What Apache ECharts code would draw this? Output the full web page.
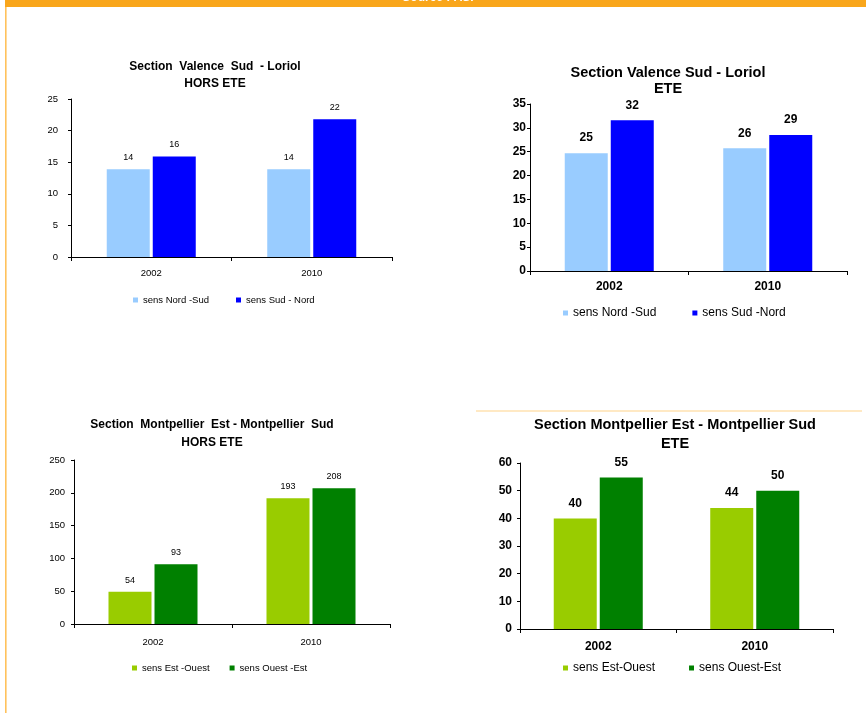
<!DOCTYPE html>
<html>
<head>
<meta charset="utf-8">
<script src="https://cdn.jsdelivr.net/npm/echarts@6/dist/echarts.min.js"></script>
<style>
html,body{margin:0;padding:0;background:#fff;}
#chart{width:866px;height:713px;}
</style>
</head>
<body>
<div id="chart"></div>
<script>
// ---- data ----
const categories = ['2002', '2010'];

// Chart 1: Section Valence Sud - Loriol, HORS ETE
const c1Names = ['sens Nord -Sud', 'sens Sud - Nord'];
const c1NordSud = [13.9, 13.9];
const c1SudNord = [15.9, 21.8];
const c1NordSudLabels = ['14', '14'];
const c1SudNordLabels = ['16', '22'];

// Chart 2: Section Valence Sud - Loriol, ETE
const c2Names = ['sens Nord -Sud', 'sens Sud -Nord'];
const c2NordSud = [24.7, 25.7];
const c2SudNord = [31.6, 28.5];
const c2NordSudLabels = ['25', '26'];
const c2SudNordLabels = ['32', '29'];

// Chart 3: Section Montpellier Est - Montpellier Sud, HORS ETE
const c3Names = ['sens Est -Ouest', 'sens Ouest -Est'];
const c3EstOuest = [49.2, 191.6];
const c3OuestEst = [91, 206.8];
const c3EstOuestLabels = ['54', '193'];
const c3OuestEstLabels = ['93', '208'];

// Chart 4: Section Montpellier Est - Montpellier Sud, ETE
const c4Names = ['sens Est-Ouest', 'sens Ouest-Est'];
const c4EstOuest = [39.9, 43.7];
const c4OuestEst = [54.8, 50];
const c4EstOuestLabels = ['40', '44'];
const c4OuestEstLabels = ['55', '50'];

const titles = [
  'Section  Valence  Sud  - Loriol\nHORS ETE',
  'Section Valence Sud - Loriol\nETE',
  'Section  Montpellier  Est - Montpellier  Sud\nHORS ETE',
  'Section Montpellier Est - Montpellier Sud\nETE'
];

// ---- styles ----
const FONT = '"Liberation Sans", Arial, sans-serif';
const LIGHT_BLUE = '#99ccff', BLUE = '#0000ff';
const LIGHT_GREEN = '#99cc00', GREEN = '#008000';

const grids = [
  {left: 71, right: 866 - 392, top: 99, bottom: 713 - 257},
  {left: 530, right: 866 - 847, top: 104, bottom: 713 - 271},
  {left: 74, right: 866 - 390, top: 460, bottom: 713 - 624},
  {left: 520, right: 866 - 833, top: 463, bottom: 713 - 629}
];
const small = [true, false, true, false];
const yMax = [25, 35, 250, 60];
const yInt = [5, 5, 50, 10];
const yMargin = [13, 4, 9, 8];
const xMargin = [11, 10, 13, 12];

const xAxes = grids.map((g, i) => ({
  type: 'category', gridIndex: i, data: categories,
  axisLine: {lineStyle: {color: '#000', width: 1}},
  axisTick: {show: true, length: 4, lineStyle: {color: '#000'}},
  axisLabel: {
    color: '#000', fontFamily: FONT,
    fontSize: small[i] ? 9.5 : 12,
    fontWeight: small[i] ? 'normal' : 'bold',
    margin: xMargin[i]
  }
}));
const yAxes = grids.map((g, i) => ({
  type: 'value', gridIndex: i, min: 0, max: yMax[i], interval: yInt[i],
  splitLine: {show: false},
  axisLine: {show: true, lineStyle: {color: '#000', width: 1}},
  axisTick: {show: true, length: 3, lineStyle: {color: '#000'}},
  axisLabel: {
    color: '#000', fontFamily: FONT,
    fontSize: small[i] ? 9.5 : 12,
    fontWeight: small[i] ? 'normal' : 'bold',
    margin: yMargin[i]
  }
}));

function barSeries(name, idx, data, labels, color) {
  return {
    name: name, type: 'bar', xAxisIndex: idx, yAxisIndex: idx,
    data: data, barWidth: 43, barGap: '7%',
    itemStyle: {color: color},
    label: {
      show: true, position: 'top',
      distance: small[idx] ? 7 : 9,
      formatter: p => labels[p.dataIndex],
      color: '#000', fontFamily: FONT,
      fontSize: small[idx] ? 9 : 12,
      fontWeight: small[idx] ? 'normal' : 'bold'
    }
  };
}

const series = [
  barSeries(c1Names[0], 0, c1NordSud, c1NordSudLabels, LIGHT_BLUE),
  barSeries(c1Names[1], 0, c1SudNord, c1SudNordLabels, BLUE),
  barSeries(c2Names[0], 1, c2NordSud, c2NordSudLabels, LIGHT_BLUE),
  barSeries(c2Names[1], 1, c2SudNord, c2SudNordLabels, BLUE),
  barSeries(c3Names[0], 2, c3EstOuest, c3EstOuestLabels, LIGHT_GREEN),
  barSeries(c3Names[1], 2, c3OuestEst, c3OuestEstLabels, GREEN),
  barSeries(c4Names[0], 3, c4EstOuest, c4EstOuestLabels, LIGHT_GREEN),
  barSeries(c4Names[1], 3, c4OuestEst, c4OuestEstLabels, GREEN)
];

const titlePos = [
  {x: 215, top: 58.5, size: 12, lh: 17},
  {x: 668, top: 64.5, size: 14.5, lh: 16.5},
  {x: 212, top: 416, size: 12, lh: 17.5},
  {x: 675, top: 415.5, size: 14.5, lh: 19}
];
const title = titles.map((t, i) => ({
  text: t, left: titlePos[i].x, top: titlePos[i].top, textAlign: 'center', padding: 0,
  textStyle: {color: '#000', fontFamily: FONT, fontWeight: 'bold',
    fontSize: titlePos[i].size, lineHeight: titlePos[i].lh}
}));

const legendPos = [
  {names: c1Names, left: 133, top: 294, gap: 27},
  {names: c2Names, left: 563, top: 307, gap: 36},
  {names: c3Names, left: 132, top: 662, gap: 20},
  {names: c4Names, left: 563, top: 662, gap: 34}
];
const legend = legendPos.map((l, i) => ({
  data: l.names, left: l.left, top: l.top, padding: 0,
  itemWidth: 5, itemHeight: 5, itemGap: l.gap, icon: 'rect',
  selectedMode: false,
  textStyle: {color: '#000', fontFamily: FONT, fontSize: small[i] ? 9.5 : 12, lineHeight: 12}
}));

const chart = echarts.init(document.getElementById('chart'), null, {renderer: 'canvas'});
chart.setOption({
  backgroundColor: '#fff',
  animation: false,
  title: title,
  legend: legend,
  grid: grids,
  xAxis: xAxes,
  yAxis: yAxes,
  series: series,
  graphic: [
    {type: 'rect', shape: {x: 5, y: 0, width: 861, height: 7}, style: {fill: '#f9a61b'}, silent: true},
    {type: 'rect', shape: {x: 5, y: 7, width: 1.6, height: 706}, style: {fill: '#ffc25c'}, silent: true},
    {type: 'rect', shape: {x: 476, y: 410.5, width: 386, height: 1}, style: {fill: '#ffd48a'}, silent: true},
    {type: 'text', x: 440, y: 4, z: 10, style: {text: 'Source : ASF', fill: '#fff', font: 'bold 12px "Liberation Sans", Arial, sans-serif', textAlign: 'center', textVerticalAlign: 'bottom'}, silent: true}
  ]
});
</script>
</body>
</html>
